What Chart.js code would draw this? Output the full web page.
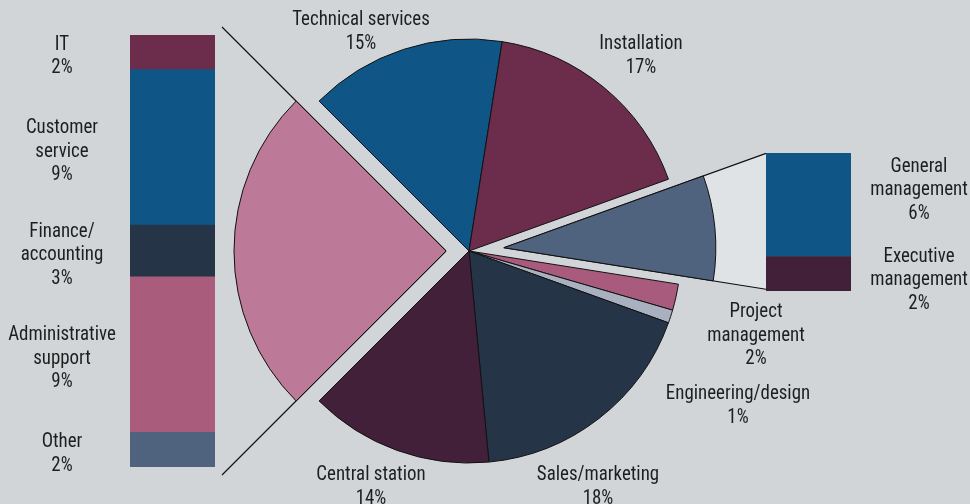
<!DOCTYPE html>
<html>
<head>
<meta charset="utf-8">
<script src="https://cdn.jsdelivr.net/npm/chart.js@4.4.1/dist/chart.umd.min.js"></script>
<style>
    html, body { margin: 0; padding: 0; background: #d1d5d8; }
    #wrap { position: relative; width: 970px; height: 504px; overflow: hidden; background: #d1d5d8; }
    canvas { position: absolute; top: 0; }
</style>
</head>
<body>
<div id="wrap">
    <canvas id="pieChart" width="970" height="504" style="left:0"></canvas>
    <canvas id="leftBar" width="230" height="504" style="left:0"></canvas>
    <canvas id="rightBar" width="230" height="504" style="left:740px"></canvas>
</div>
<script>
// Pie: share of staff by function (%)
const pieLabels = ['Technical services', 'Installation', 'Management', 'Project\nmanagement',
    'Engineering/design', 'Sales/marketing', 'Central station', 'Support functions'];
const pieValues = [15, 17, 8, 2, 1, 18, 14, 25];
const pieColors = ['#0f5686', '#6b2d4b', '#4f637f', '#a95b7e', '#a9b0bf', '#263447', '#42203a', '#bd7a98'];

// Left bar: breakdown of support functions (bottom to top)
const leftLabels = ['Other', 'Administrative\nsupport', 'Finance/\naccounting', 'Customer\nservice', 'IT'];
const leftValues = [2, 9, 3, 9, 2];
const leftColors = ['#4f637f', '#aa5c7d', '#263447', '#0f5686', '#6b2d4b'];

// Right bar: breakdown of management (bottom to top)
const rightLabels = ['Executive\nmanagement', 'General\nmanagement'];
const rightValues = [2, 6];
const rightColors = ['#42203a', '#0f5686'];

// layout
const FONT = '21px "Roboto Condensed", Roboto, sans-serif';
const SQUEEZE = 0.9; // condensed look
const TEXT = '#1e1e1e';
const LINE_H = 23.5;
const explode = [0, 0, 35, 0, 0, 0, 0, 23];
// label anchors for pie slices (center x, first line y); null = labelled by a bar
const pieLabelPos = [[361, 20], [641, 44], null, [756, 312], [738, 394], [598, 475], [371, 475], null];
const leftLabelX = 62;
const rightLabelX = 919;
const rightLabelNudge = [6, -15];

function drawLines(ctx, lines, x, yTop) {
    ctx.save();
    ctx.font = FONT;
    ctx.fillStyle = TEXT;
    ctx.textAlign = 'center';
    ctx.textBaseline = 'middle';
    lines.forEach((l, i) => {
        ctx.save();
        ctx.translate(x, yTop + i * LINE_H);
        ctx.scale(SQUEEZE, 1);
        ctx.fillText(l, 0, 0);
        ctx.restore();
    });
    ctx.restore();
}

function barLabelPlugin(labels, values, x, nudge) {
    return {
        id: 'barLabels',
        afterDatasetsDraw(chart) {
            const ctx = chart.ctx;
            chart.data.datasets.forEach((ds, i) => {
                const bar = chart.getDatasetMeta(i).data[0];
                const lines = labels[i].split('\n').concat([values[i] + '%']);
                const mid = (bar.y + bar.base) / 2 + (nudge ? nudge[i] : 4);
                drawLines(ctx, lines, x, mid - (lines.length - 1) * LINE_H / 2);
            });
        }
    };
}

function makeBar(id, labels, values, colors, padding, labelX, nudge) {
    const total = values.reduce((a, b) => a + b, 0);
    return new Chart(document.getElementById(id), {
        type: 'bar',
        data: {
            labels: [''],
            datasets: labels.map((l, i) => ({
                label: l,
                data: [values[i]],
                backgroundColor: colors[i],
                borderWidth: 0,
                barPercentage: 1,
                categoryPercentage: 1
            }))
        },
        options: {
            responsive: false,
            animation: false,
            layout: { padding: padding },
            plugins: { legend: { display: false }, tooltip: { enabled: false } },
            scales: {
                x: { display: false, stacked: true },
                y: { display: false, stacked: true, min: 0, max: total }
            }
        },
        plugins: [barLabelPlugin(labels, values, labelX, nudge)]
    });
}

const leftChart = makeBar('leftBar', leftLabels, leftValues, leftColors,
    { left: 130, right: 15, top: 35, bottom: 37 }, leftLabelX, null);
const rightChart = makeBar('rightBar', rightLabels, rightValues, rightColors,
    { left: 26, right: 119, top: 153, bottom: 213 }, rightLabelX - 740, rightLabelNudge);

function edgeTo(apexX, apexY, angle, x) {
    const t = (x - apexX) / Math.cos(angle);
    return [x, apexY + t * Math.sin(angle)];
}

const pieExtras = {
    id: 'pieExtras',
    beforeDatasetsDraw(chart) {
        const ctx = chart.ctx;
        const arcs = chart.getDatasetMeta(0).data;
        // right connector (management -> right bar)
        const r = arcs[2];
        const mr = (r.startAngle + r.endAngle) / 2;
        const ax = r.x + Math.cos(mr) * explode[2], ay = r.y + Math.sin(mr) * explode[2];
        const barX = rightChart.chartArea.left + 740;
        const p1 = edgeTo(ax, ay, r.startAngle, barX);
        const p2 = edgeTo(ax, ay, r.endAngle, barX);
        ctx.save();
        ctx.beginPath();
        ctx.moveTo(ax, ay);
        ctx.lineTo(p1[0], p1[1]);
        ctx.lineTo(p2[0], p2[1]);
        ctx.closePath();
        ctx.fillStyle = '#e0e3e5';
        ctx.fill();
        ctx.strokeStyle = '#111';
        ctx.lineWidth = 1.2;
        ctx.beginPath();
        ctx.moveTo(ax, ay); ctx.lineTo(p1[0], p1[1]);
        ctx.moveTo(ax, ay); ctx.lineTo(p2[0], p2[1]);
        ctx.stroke();
        // left connector (support functions -> left bar)
        const l = arcs[7];
        const ml = (l.startAngle + l.endAngle) / 2;
        const bx = l.x + Math.cos(ml) * explode[7], by = l.y + Math.sin(ml) * explode[7];
        const lx = leftChart.chartArea.right + 7;
        const q1 = edgeTo(bx, by, l.startAngle, lx);
        const q2 = edgeTo(bx, by, l.endAngle, lx);
        ctx.beginPath();
        ctx.moveTo(bx, by); ctx.lineTo(q1[0], q1[1]);
        ctx.moveTo(bx, by); ctx.lineTo(q2[0], q2[1]);
        ctx.stroke();
        ctx.restore();
    },
    beforeDatasetDraw(chart, args) {
        // draw arcs ourselves so exploded slices keep their size
        const ctx = chart.ctx;
        args.meta.data.forEach((arc, i) => {
            const m = (arc.startAngle + arc.endAngle) / 2;
            ctx.save();
            ctx.translate(Math.cos(m) * explode[i], Math.sin(m) * explode[i]);
            arc.draw(ctx, chart.chartArea);
            ctx.restore();
        });
        return false;
    },
    afterDraw(chart) {
        const ctx = chart.ctx;
        pieLabelPos.forEach((p, i) => {
            if (!p) return;
            const lines = pieLabels[i].split('\n').concat([pieValues[i] + '%']);
            drawLines(ctx, lines, p[0], p[1]);
        });
    }
};

new Chart(document.getElementById('pieChart'), {
    type: 'pie',
    data: {
        labels: pieLabels,
        datasets: [{
            data: pieValues,
            backgroundColor: pieColors,
            borderColor: '#111',
            borderWidth: 1,
            radius: 212
        }]
    },
    options: {
        responsive: false,
        animation: false,
        rotation: -45,
        layout: { padding: { left: 0, right: 32, top: 0, bottom: 2 } },
        plugins: { legend: { display: false }, tooltip: { enabled: false } }
    },
    plugins: [pieExtras]
});
</script>
</body>
</html>
